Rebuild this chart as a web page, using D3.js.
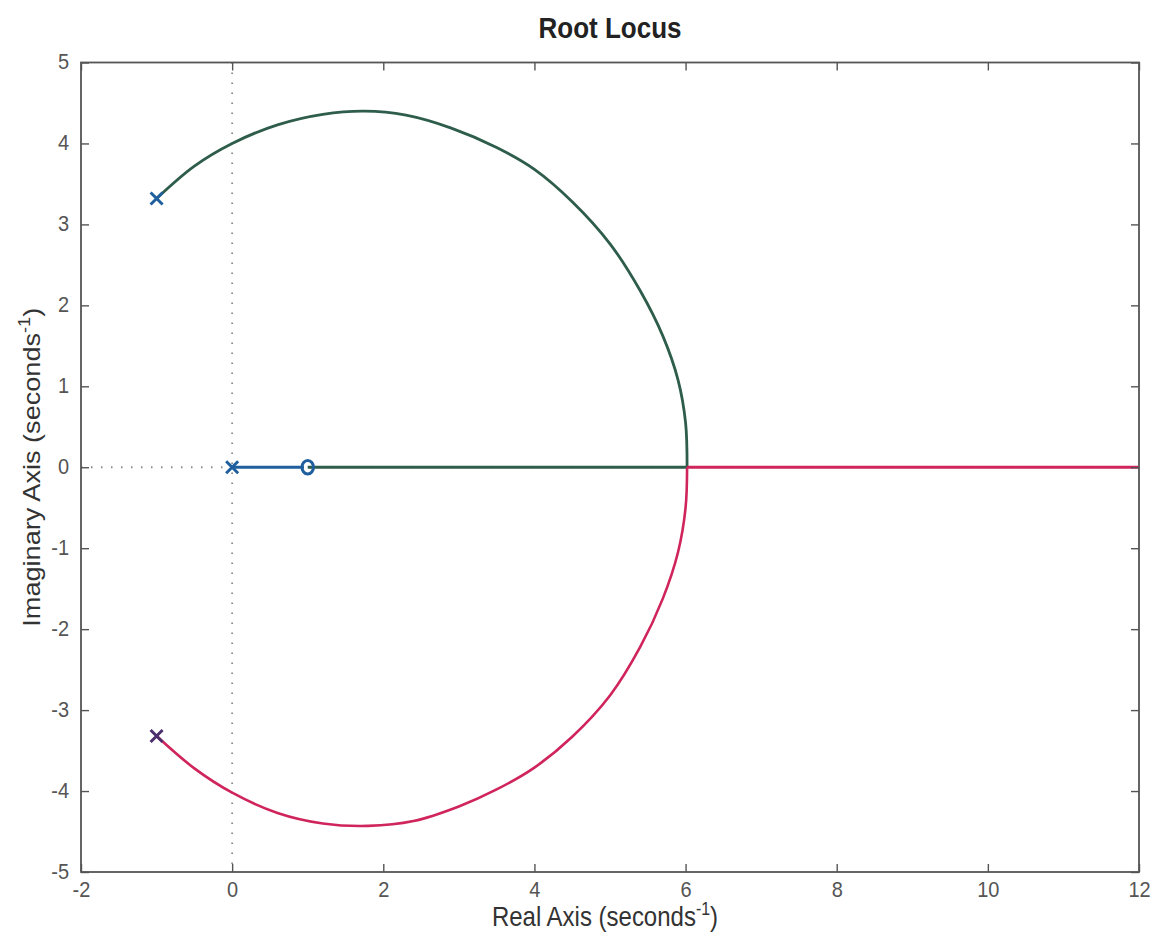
<!DOCTYPE html>
<html>
<head>
<meta charset="utf-8">
<script src="https://cdn.jsdelivr.net/npm/d3@7"></script>
<style>
	body { margin: 0; background: #fff; }
	text { font-family: "Liberation Sans", Arial, sans-serif; }
</style>
</head>
<body>
<svg id="svgContainer" width="1158" height="947"></svg>
<script>
// values
var xTicks = [-2, 0, 2, 4, 6, 8, 10, 12],
	yTicks = [-5, -4, -3, -2, -1, 0, 1, 2, 3, 4, 5],
	upperRe = [-1.00, -0.50, 0.00, 0.60, 1.20, 1.75, 2.30, 2.90, 3.50, 4.00, 4.50, 5.00, 5.40, 5.70, 5.90, 6.00, 6.02],
	upperIm = [3.32, 3.72, 4.00, 4.23, 4.36, 4.40, 4.35, 4.19, 3.95, 3.68, 3.28, 2.76, 2.18, 1.62, 1.08, 0.55, 0.00],
	lowerRe = [-1.00, -0.50, 0.00, 0.60, 1.20, 1.80, 2.40, 3.00, 3.50, 4.00, 4.50, 5.00, 5.40, 5.70, 5.90, 6.00, 6.02],
	lowerIm = [-3.32, -3.72, -4.02, -4.27, -4.40, -4.43, -4.37, -4.19, -3.98, -3.71, -3.33, -2.82, -2.22, -1.62, -1.05, -0.50, 0.00],
	blueRe = [0, 0.95],
	greenRe = [1, 6.02],
	redRe = [6.02, 12],
	polesRe = [-1, 0, -1],
	polesIm = [3.32, 0, -3.32],
	poleColors = ["#1f5f9e", "#1f5f9e", "#4b2f6e"],
	zerosRe = [1],
	zerosIm = [0];

var plotL = 81, plotR = 1139, plotT = 62.5, plotB = 872,
	stretch = 1.13; // the scan is a little taller than wide

var svg = d3.select("#svgContainer");

var x = d3.scaleLinear().domain([-2, 12]).range([plotL, plotR]),
	y = d3.scaleLinear().domain([-5, 5]).range([plotB, plotT]);

function pts(re, im){
	return re.map(function(d, i){ return [d, im[i]]; });
}

var line = d3.line()
	.x(function(d){ return x(d[0]); })
	.y(function(d){ return y(d[1]); });

var smooth = d3.line()
	.curve(d3.curveCatmullRom)
	.x(function(d){ return x(d[0]); })
	.y(function(d){ return y(d[1]); });

// dotted zero lines
svg.append("line")
	.attr("x1", x(0)).attr("x2", x(0))
	.attr("y1", plotT).attr("y2", plotB)
	.attr("stroke", "#8a8a8a").attr("stroke-width", 1.8)
	.attr("stroke-dasharray", "1.5,8.5");
svg.append("line")
	.attr("x1", plotL).attr("x2", plotR)
	.attr("y1", y(0)).attr("y2", y(0))
	.attr("stroke", "#8a8a8a").attr("stroke-width", 1.8)
	.attr("stroke-dasharray", "1.5,8.5");

// locus branches
svg.append("path")
	.attr("d", smooth(pts(upperRe, upperIm)))
	.attr("fill", "none").attr("stroke", "#2e5d4b").attr("stroke-width", 2.8);
svg.append("path")
	.attr("d", line(pts(greenRe, [0, 0])))
	.attr("fill", "none").attr("stroke", "#2e5d4b").attr("stroke-width", 2.8);
svg.append("path")
	.attr("d", smooth(pts(lowerRe, lowerIm)))
	.attr("fill", "none").attr("stroke", "#d0245c").attr("stroke-width", 2.6);
svg.append("path")
	.attr("d", line(pts(redRe, [0, 0])))
	.attr("fill", "none").attr("stroke", "#d0245c").attr("stroke-width", 2.8);
svg.append("path")
	.attr("d", line(pts(blueRe, [0, 0])))
	.attr("fill", "none").attr("stroke", "#1f5f9e").attr("stroke-width", 2.8);

// poles
var s = 6;
polesRe.forEach(function(re, i){
	var cx = x(re), cy = y(polesIm[i]);
	svg.append("path")
		.attr("d", "M" + (cx - s) + "," + (cy - s) + "L" + (cx + s) + "," + (cy + s) +
			"M" + (cx - s) + "," + (cy + s) + "L" + (cx + s) + "," + (cy - s))
		.attr("stroke", poleColors[i]).attr("stroke-width", 3).attr("fill", "none");
});

// zeros
zerosRe.forEach(function(re, i){
	svg.append("ellipse")
		.attr("cx", x(re)).attr("cy", y(zerosIm[i]))
		.attr("rx", 5.8).attr("ry", 6.8)
		.attr("fill", "none").attr("stroke", "#1f5f9e").attr("stroke-width", 3);
});

// axes box with inward ticks on every side
function plain(d){ return String(d); }

function styleAxis(g){
	g.select(".domain").remove();
	g.selectAll(".tick line").attr("stroke", "#555").attr("stroke-width", 1.4);
	g.selectAll(".tick text").attr("fill", "#555").style("font-size", "20px");
}

svg.append("g").attr("transform", "translate(0," + plotB + ")")
	.call(d3.axisBottom(x).tickValues(xTicks).tickFormat(plain).tickSizeInner(-8).tickSizeOuter(0).tickPadding(8))
	.call(styleAxis)
	.selectAll(".tick text").attr("transform", "scale(1," + stretch + ")");
svg.append("g").attr("transform", "translate(0," + plotT + ")")
	.call(d3.axisTop(x).tickValues(xTicks).tickSizeInner(-8).tickSizeOuter(0).tickFormat(""))
	.call(styleAxis);
svg.append("g").attr("transform", "translate(" + plotL + ",0)")
	.call(d3.axisLeft(y).tickValues(yTicks).tickFormat(plain).tickSizeInner(-8).tickSizeOuter(0).tickPadding(12))
	.call(styleAxis)
	.selectAll(".tick text").attr("transform", "scale(1," + stretch + ")").attr("dy", "0.28em");
svg.append("g").attr("transform", "translate(" + plotR + ",0)")
	.call(d3.axisRight(y).tickValues(yTicks).tickSizeInner(-8).tickSizeOuter(0).tickFormat(""))
	.call(styleAxis);

svg.append("rect")
	.attr("x", plotL).attr("y", plotT)
	.attr("width", plotR - plotL).attr("height", plotB - plotT)
	.attr("fill", "none").attr("stroke", "#555").attr("stroke-width", 1.8);

// title and labels
svg.append("text")
	.attr("transform", "translate(" + ((plotL + plotR) / 2) + ",38) scale(1," + stretch + ")")
	.attr("text-anchor", "middle")
	.style("font-size", "26px").style("font-weight", "bold").attr("fill", "#222")
	.text("Root Locus");

var xl = svg.append("text")
	.attr("transform", "translate(" + ((plotL + plotR) / 2 - 5) + ",926) scale(1," + stretch + ")")
	.attr("text-anchor", "middle")
	.style("font-size", "24px").attr("fill", "#333");
xl.append("tspan").text("Real Axis (seconds");
xl.append("tspan").attr("dy", -10).style("font-size", "16px").text("-1");
xl.append("tspan").attr("dy", 10).text(")");

var yl = svg.append("text")
	.attr("transform", "translate(40," + ((plotT + plotB) / 2) + ") scale(1," + stretch + ") rotate(-90)")
	.attr("text-anchor", "middle")
	.style("font-size", "24px").attr("fill", "#333");
yl.append("tspan").text("Imaginary Axis (seconds");
yl.append("tspan").attr("dy", -10).style("font-size", "16px").text("-1");
yl.append("tspan").attr("dy", 10).text(")");
</script>
</body>
</html>
